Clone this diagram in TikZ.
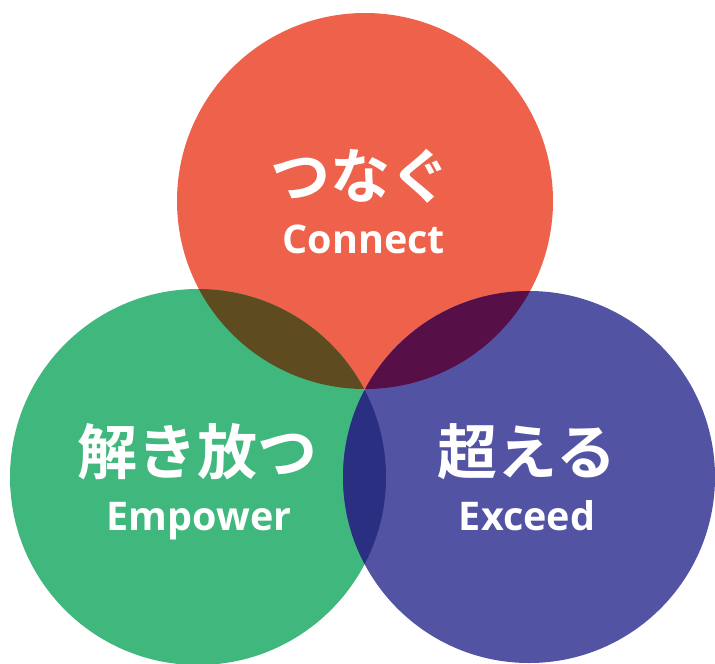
\documentclass[tikz,border=0pt]{standalone}
\usepackage{fontspec}
\newfontfamily\jpfont{Noto Sans CJK JP}[BoldFont={* Bold}]
\newfontfamily\enfont{Open Sans}
\usetikzlibrary{positioning}

\definecolor{connectred}{HTML}{EE614A}
\definecolor{empowergreen}{HTML}{3FB77D}
\definecolor{exceedblue}{HTML}{5353A4}
\definecolor{redgreen}{HTML}{5E4B1F}
\definecolor{redblue}{HTML}{560F47}
\definecolor{greenblue}{HTML}{2B2F82}
\definecolor{allthree}{HTML}{2E0E35}

\tikzset{
  jptext/.style = {text = white, anchor = base, font = \jpfont\bfseries\fontsize{60}{64}\selectfont},
  entext/.style = {text = white, anchor = base, font = \enfont\bfseries\fontsize{39.5}{44}\selectfont}
}

\begin{document}
\begin{tikzpicture}[x = 1pt, y = -1pt]
	\useasboundingbox (0, 0) rectangle (715, 664);
	\coordinate (r) at (365, 201);
	\coordinate (g) at (198, 477);
	\coordinate (b) at (529, 477);
	\fill [connectred] (r) circle [radius = 188pt];
	\fill [empowergreen] (g) circle [radius = 188pt];
	\fill [exceedblue] (b) circle [radius = 186pt];
	\begin{scope}
		\clip (r) circle [radius = 188pt];
		\fill [redgreen] (g) circle [radius = 188pt];
		\fill [redblue] (b) circle [radius = 186pt];
		\clip (g) circle [radius = 188pt];
		\fill [allthree] (b) circle [radius = 186pt];
	\end{scope}
	\begin{scope}
		\clip (g) circle [radius = 188pt];
		\fill [greenblue] (b) circle [radius = 186pt];
		\clip (r) circle [radius = 188pt];
		\fill [allthree] (b) circle [radius = 186pt];
	\end{scope}
	\node (tsunagu) at (360, 198) [jptext] {つなぐ};
	\node (connect) at (364, 253) [entext] {Connect};
	\node (tokihanatsu) at (197, 474) [jptext] {解き放つ};
	\node (empower) at (199, 530) [entext] {Empower};
	\node (koeru) at (527, 474) [jptext] {超える};
	\node (exceed) at (527, 530) [entext] {Exceed};
\end{tikzpicture}
\end{document}
